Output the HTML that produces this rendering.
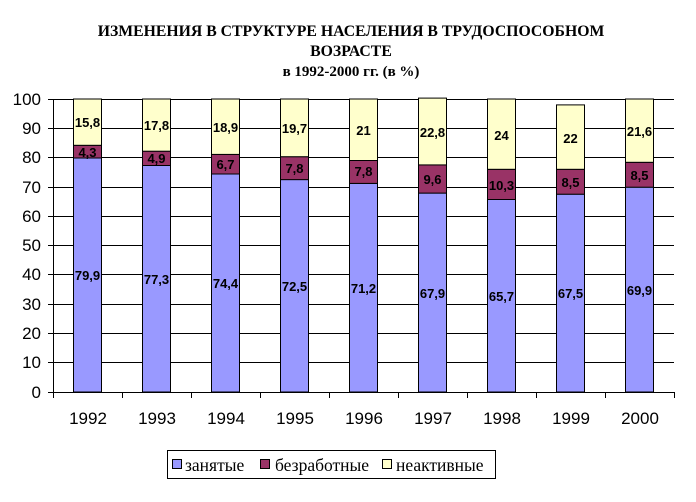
<!DOCTYPE html>
<html><head><meta charset="utf-8"><style>
html,body{margin:0;padding:0;background:#fff;}
svg{display:block;}
.t{font-family:"Liberation Serif","DejaVu Serif",serif;font-weight:bold;}
.a{font-family:"Liberation Sans",Arial,sans-serif;}
.v{font-family:"Liberation Sans",Arial,sans-serif;font-weight:bold;font-size:13px;text-anchor:middle;}
.l{font-family:"Liberation Serif","DejaVu Serif",serif;font-size:17.5px;}
</style></head><body>
<svg width="696" height="502" viewBox="0 0 696 502" xmlns="http://www.w3.org/2000/svg">
<rect width="696" height="502" fill="#fff"/>
<text class="t" x="351" y="36" font-size="15.75" text-anchor="middle">ИЗМЕНЕНИЯ В СТРУКТУРЕ НАСЕЛЕНИЯ В ТРУДОСПОСОБНОМ</text>
<text class="t" x="351" y="56" font-size="15.75" text-anchor="middle">ВОЗРАСТЕ</text>
<text class="t" x="351" y="76" font-size="15" text-anchor="middle">в 1992-2000 гг. (в %)</text>
<g stroke="#000" stroke-width="1">
<line x1="48" y1="99.5" x2="674" y2="99.5"/>
<line x1="48" y1="128.5" x2="674" y2="128.5"/>
<line x1="48" y1="157.5" x2="674" y2="157.5"/>
<line x1="48" y1="187.5" x2="674" y2="187.5"/>
<line x1="48" y1="216.5" x2="674" y2="216.5"/>
<line x1="48" y1="245.5" x2="674" y2="245.5"/>
<line x1="48" y1="274.5" x2="674" y2="274.5"/>
<line x1="48" y1="304.5" x2="674" y2="304.5"/>
<line x1="48" y1="333.5" x2="674" y2="333.5"/>
<line x1="48" y1="362.5" x2="674" y2="362.5"/>
<line x1="53.5" y1="99" x2="53.5" y2="392"/>
</g>
<g class="a" font-size="17" text-anchor="end">
<text x="41" y="105">100</text><text x="41" y="134">90</text><text x="41" y="163">80</text>
<text x="41" y="193">70</text><text x="41" y="222">60</text><text x="41" y="251">50</text>
<text x="41" y="280">40</text><text x="41" y="310">30</text><text x="41" y="339">20</text>
<text x="41" y="368">10</text><text x="41" y="398">0</text>
</g>
<g stroke="#000" stroke-width="1">
<rect x="73.5" y="158" width="28" height="234" fill="#9999FF"/>
<rect x="73.5" y="145.3" width="28" height="12.7" fill="#993366"/>
<rect x="73.5" y="99" width="28" height="46.3" fill="#FFFFCC"/>
<rect x="142.5" y="165.5" width="28" height="226.5" fill="#9999FF"/>
<rect x="142.5" y="151.2" width="28" height="14.3" fill="#993366"/>
<rect x="142.5" y="99" width="28" height="52.2" fill="#FFFFCC"/>
<rect x="211.5" y="174" width="28" height="218" fill="#9999FF"/>
<rect x="211.5" y="154.4" width="28" height="19.6" fill="#993366"/>
<rect x="211.5" y="99" width="28" height="55.4" fill="#FFFFCC"/>
<rect x="280.5" y="179.6" width="28" height="212.4" fill="#9999FF"/>
<rect x="280.5" y="156.7" width="28" height="22.9" fill="#993366"/>
<rect x="280.5" y="99" width="28" height="57.7" fill="#FFFFCC"/>
<rect x="349.5" y="183.4" width="28" height="208.6" fill="#9999FF"/>
<rect x="349.5" y="160.5" width="28" height="22.9" fill="#993366"/>
<rect x="349.5" y="99" width="28" height="61.5" fill="#FFFFCC"/>
<rect x="418.5" y="193.1" width="28" height="198.9" fill="#9999FF"/>
<rect x="418.5" y="164.9" width="28" height="28.2" fill="#993366"/>
<rect x="418.5" y="98.1" width="28" height="66.8" fill="#FFFFCC"/>
<rect x="487.5" y="199.5" width="28" height="192.5" fill="#9999FF"/>
<rect x="487.5" y="169.3" width="28" height="30.2" fill="#993366"/>
<rect x="487.5" y="99" width="28" height="70.3" fill="#FFFFCC"/>
<rect x="556.5" y="194.2" width="28" height="197.8" fill="#9999FF"/>
<rect x="556.5" y="169.3" width="28" height="24.9" fill="#993366"/>
<rect x="556.5" y="104.9" width="28" height="64.4" fill="#FFFFCC"/>
<rect x="625.5" y="187.2" width="28" height="204.8" fill="#9999FF"/>
<rect x="625.5" y="162.3" width="28" height="24.9" fill="#993366"/>
<rect x="625.5" y="99" width="28" height="63.3" fill="#FFFFCC"/>
<line x1="48" y1="392.5" x2="674.5" y2="392.5"/>
<line x1="53.5" y1="392" x2="53.5" y2="398"/>
<line x1="122.5" y1="392" x2="122.5" y2="398"/>
<line x1="191.5" y1="392" x2="191.5" y2="398"/>
<line x1="260.5" y1="392" x2="260.5" y2="398"/>
<line x1="329.5" y1="392" x2="329.5" y2="398"/>
<line x1="398.5" y1="392" x2="398.5" y2="398"/>
<line x1="467.5" y1="392" x2="467.5" y2="398"/>
<line x1="536.5" y1="392" x2="536.5" y2="398"/>
<line x1="605.5" y1="392" x2="605.5" y2="398"/>
<line x1="674.5" y1="392" x2="674.5" y2="398"/>
</g>
<g class="v">
<text x="87.5" y="280">79,9</text><text x="87.5" y="157">4,3</text><text x="87.5" y="127">15,8</text>
<text x="156.5" y="284">77,3</text><text x="156.5" y="163">4,9</text><text x="156.5" y="130">17,8</text>
<text x="225.5" y="288">74,4</text><text x="225.5" y="169">6,7</text><text x="225.5" y="132">18,9</text>
<text x="294.5" y="291">72,5</text><text x="294.5" y="173">7,8</text><text x="294.5" y="133">19,7</text>
<text x="363.5" y="293">71,2</text><text x="363.5" y="176">7,8</text><text x="363.5" y="135">21</text>
<text x="432.5" y="298">67,9</text><text x="432.5" y="184">9,6</text><text x="432.5" y="137">22,8</text>
<text x="501.5" y="301">65,7</text><text x="501.5" y="190">10,3</text><text x="501.5" y="140">24</text>
<text x="570.5" y="298">67,5</text><text x="570.5" y="187">8,5</text><text x="570.5" y="143">22</text>
<text x="639.5" y="295">69,9</text><text x="639.5" y="180">8,5</text><text x="639.5" y="136">21,6</text>
</g>
<g class="a" font-size="17" text-anchor="middle">
<text x="88" y="424">1992</text><text x="157" y="424">1993</text><text x="226" y="424">1994</text>
<text x="295" y="424">1995</text><text x="364" y="424">1996</text><text x="433" y="424">1997</text>
<text x="502" y="424">1998</text><text x="571" y="424">1999</text><text x="640" y="424">2000</text>
</g>
<rect x="167.5" y="450.5" width="328" height="28" fill="#fff" stroke="#000" stroke-width="1"/>
<g stroke="#000" stroke-width="1">
<rect x="172.5" y="459.5" width="9" height="9" fill="#9999FF"/>
<rect x="260.5" y="459.5" width="9" height="9" fill="#993366"/>
<rect x="382.5" y="459.5" width="9" height="9" fill="#FFFFCC"/>
</g>
<g class="l">
<text x="185" y="471">занятые</text>
<text x="275" y="471">безработные</text>
<text x="396" y="471">неактивные</text>
</g>
</svg>
</body></html>
